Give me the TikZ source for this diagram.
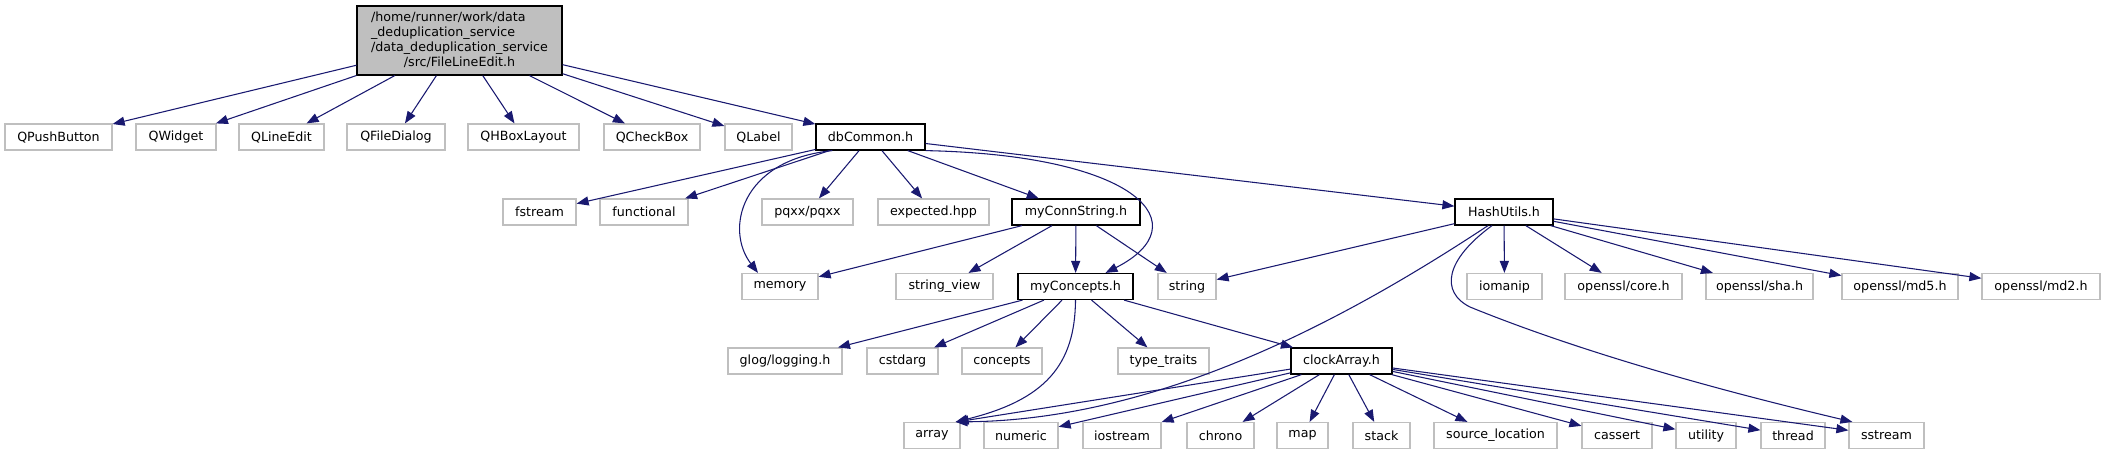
\documentclass[tikz,border=0pt]{standalone}
\usepackage{fontspec}
\setmainfont{DejaVu Sans}
\usetikzlibrary{arrows.meta,calc}
\definecolor{edgec}{HTML}{191970}
\definecolor{greyb}{HTML}{BFBFBF}
\tikzset{
  box/.style={draw, fill=white, inner sep=0pt, line width=0.9pt, minimum height=26*0.75pt,
    font=\fontsize{9.5}{11.25}\selectfont},
  ext/.style={box, draw=greyb},
  doc/.style={box, draw=black},
  bw/.style={minimum width=#1*0.75pt},
  edge/.style={draw=edgec, line width=0.8pt, -{Triangle[length=9pt,width=6.8pt]}}
}
\begin{document}
\begin{tikzpicture}[x=0.75pt,y=-0.75pt]
\useasboundingbox (0,0) rectangle (2105,455);
% root
\node[doc, fill=greyb, bw=205, minimum height=69*0.75pt] (root) at (459.5,40.5)
  {\begin{tabular}{@{}l@{}}/home/runner/work/data\\\_deduplication\_service\\/data\_deduplication\_service\\\multicolumn{1}{@{}c@{}}{/src/FileLineEdit.h}\end{tabular}};
% row 1
\node[ext, bw=107] (qpb) at (58.5,137) {QPushButton};
\node[ext, bw=80] (qw) at (176,137) {QWidget};
\node[ext, bw=85] (qle) at (281.5,137) {QLineEdit};
\node[ext, bw=98] (qfd) at (396,137) {QFileDialog};
\node[ext, bw=111] (qhb) at (523.5,137) {QHBoxLayout};
\node[ext, bw=96] (qcb) at (652,137) {QCheckBox};
\node[ext, bw=67] (qlab) at (758.5,137) {QLabel};
\node[doc, bw=109] (dbc) at (870.5,137) {dbCommon.h};
% row 2
\node[ext, bw=73] (fst) at (539.5,212) {fstream};
\node[ext, bw=88] (fun) at (644,212) {functional};
\node[ext, bw=91] (pqx) at (807.5,212) {pqxx/pqxx};
\node[ext, bw=111] (exp) at (933.5,212) {expected.hpp};
\node[doc, bw=128] (mcs) at (1076,212) {myConnString.h};
\node[doc, bw=98] (hu) at (1504,212) {HashUtils.h};
% row 3
\node[ext, bw=76] (mem) at (780,286.5) {memory};
\node[ext, bw=97] (sv) at (944.5,286.5) {string\_view};
\node[doc, bw=115] (myc) at (1075.5,286.5) {myConcepts.h};
\node[ext, bw=58] (str) at (1187,286.5) {string};
\node[ext, bw=75] (iom) at (1504.5,286.5) {iomanip};
\node[ext, bw=117] (osc) at (1623.5,286.5) {openssl/core.h};
\node[ext, bw=107] (oss) at (1759.5,286.5) {openssl/sha.h};
\node[ext, bw=116] (os5) at (1900,286.5) {openssl/md5.h};
\node[ext, bw=118] (os2) at (2041,286.5) {openssl/md2.h};
% row 4
\node[ext, bw=114] (glog) at (785,361) {glog/logging.h};
\node[ext, bw=71] (csd) at (902.5,361) {cstdarg};
\node[ext, bw=80] (con) at (1002,361) {concepts};
\node[ext, bw=91] (tt) at (1163.5,361) {type\_traits};
\node[doc, bw=101] (ca) at (1341.5,361) {clockArray.h};
% row 5
\node[ext, bw=56] (arr) at (932,435.5) {array};
\node[ext, bw=74] (num) at (1021,435.5) {numeric};
\node[ext, bw=78] (ios) at (1122,435.5) {iostream};
\node[ext, bw=67] (chr) at (1220.5,435.5) {chrono};
\node[ext, bw=51] (map) at (1302.5,435.5) {map};
\node[ext, bw=57] (stk) at (1381.5,435.5) {stack};
\node[ext, bw=123] (srcl) at (1495.5,435.5) {source\_location};
\node[ext, bw=70] (cas) at (1617,435.5) {cassert};
\node[ext, bw=60] (uti) at (1706,435.5) {utility};
\node[ext, bw=64] (thr) at (1793,435.5) {thread};
\node[ext, bw=75] (sst) at (1886.5,435.5) {sstream};
% root edges
\foreach \t in {qpb,qw,qle,qfd,qhb,qcb,qlab,dbc} \draw[edge] (root) -- (\t);
% dbCommon edges
\foreach \t in {fst,fun,pqx,exp,mcs,hu} \draw[edge] (dbc) -- (\t);
\draw[edge] ($(dbc.south west)+(17,0)$) .. controls (740,160) and (725,230) .. ($(mem.north)+(-22,0)$);
\draw[edge] (dbc.south east) .. controls (1140,155) and (1200,225) .. ($(myc.north)+(30,0)$);
% myConnString edges
\foreach \t in {mem,sv,myc,str} \draw[edge] (mcs) -- (\t);
% HashUtils edges
\foreach \t in {str,iom,osc,oss,os5,os2} \draw[edge] (hu) -- (\t);
\draw[edge] ($(hu.south)+(-16,0)$) .. controls (1330,330) and (1150,420) .. ($(arr.north east)+(-5,0)$);
\draw[edge] ($(hu.south)+(-12,0)$) .. controls (1445,260) and (1440,292) .. (1470,307) .. controls (1600,360) and (1760,400) .. ($(sst.north west)+(4,0)$);
% myConcepts edges
\foreach \t in {glog,csd,con,tt,ca} \draw[edge] (myc) -- (\t);
\draw[edge] (myc.south) .. controls (1075,365) and (1045,400) .. ($(arr.north east)+(-5,0)$);
% clockArray edges
\draw[edge] (ca) -- ($(arr.north east)+(-4,0)$);
\foreach \t in {num,ios,chr,map,stk,srcl,cas,uti,thr,sst} \draw[edge] (ca) -- (\t);
\end{tikzpicture}
\end{document}
